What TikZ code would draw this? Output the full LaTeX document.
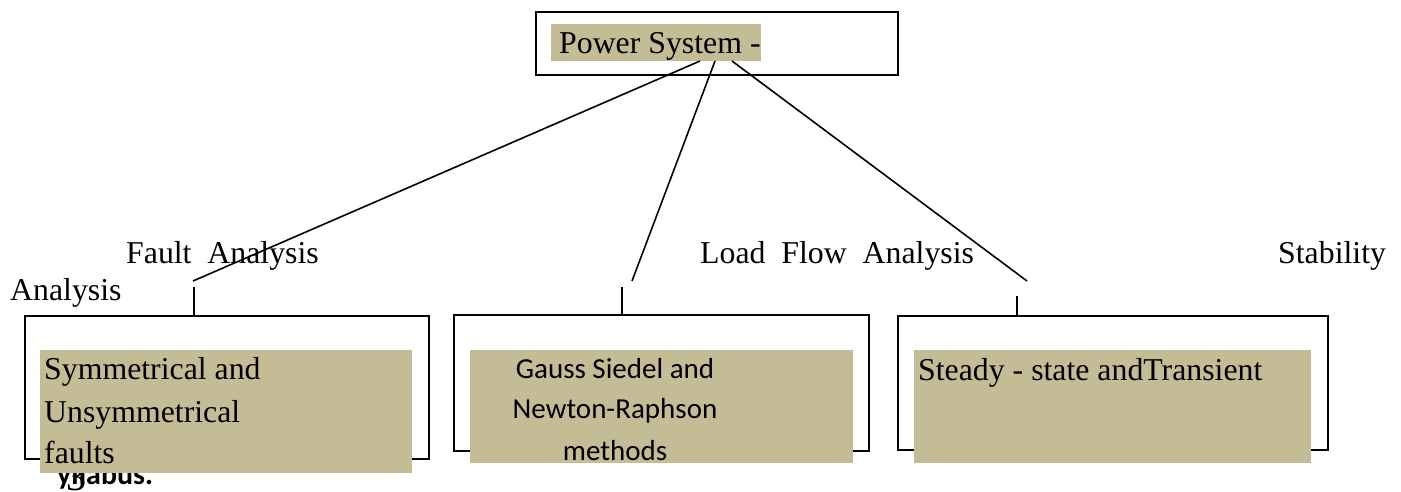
\documentclass[tikz,border=0pt]{standalone}
\usepackage{fontspec}
\setmainfont{Liberation Serif}
\newfontfamily\calibri{Carlito}
\definecolor{khaki}{RGB}{196,188,149}
\newcommand{\serifbig}{\fontsize{31.8}{38}\selectfont}
\newcommand{\sansbig}{\calibri\fontsize{29}{35}\selectfont}
\begin{document}
\begin{tikzpicture}[x=1pt,y=-1pt,
  frame/.style={draw=black,line width=1.8pt,inner sep=0pt,anchor=north west},
  shade/.style={fill=khaki,inner sep=0pt,anchor=north west},
  lbl/.style={inner sep=0pt,anchor=base west,font=\serifbig},
  slbl/.style={inner sep=0pt,anchor=base,font=\sansbig},
  link/.style={draw=black,line width=1.6pt}]
\useasboundingbox (0,0) rectangle (1401,491);

% footer text partly hidden behind the first box
\node[inner sep=0pt,anchor=base west,font={\calibri\bfseries\fontsize{30}{36}\selectfont}] (syl) at (57,484) {yllabus.};
\node[inner sep=0pt,anchor=base west,font={\fontsize{40}{48}\selectfont}] (three) at (66,490) {3};

% top box
\node[frame,minimum width=362pt,minimum height=63pt] (top) at (535,11) {};
\node[shade,minimum width=210pt,minimum height=37pt] (toptag) at (551,24) {};
\node[lbl] (toptxt) at (559,53) {Power System -};

% category labels
\node[lbl] (fault) at (126,263) {Fault\ \ Analysis};
\node[lbl] (anal) at (10,300) {Analysis};
\node[lbl] (load) at (700,263) {Load\ \ Flow\ \ Analysis};
\node[lbl] (stab) at (1278,263) {Stability};

% lower boxes
\node[frame,minimum width=404pt,minimum height=143pt] (b1) at (24,315) {};
\node[frame,minimum width=415pt,minimum height=136pt] (b2) at (453,314) {};
\node[frame,minimum width=430pt,minimum height=134pt] (b3) at (897,315) {};

\node[shade,minimum width=372pt,minimum height=123pt] (t1) at (40,350) {};
\node[shade,minimum width=383pt,minimum height=113pt] (t2) at (470,350) {};
\node[shade,minimum width=397pt,minimum height=113pt] (t3) at (914,350) {};

% box texts
\node[lbl] (t1a) at (44,379) {Symmetrical and};
\node[lbl] (t1b) at (44,422) {Unsymmetrical};
\node[lbl] (t1c) at (44,463) {faults};

\node[slbl] (t2a) at (615,378) {Gauss Siedel and};
\node[slbl] (t2b) at (615,418) {Newton-Raphson};
\node[slbl] (t2c) at (615,460) {methods};

\node[lbl] (t3a) at (918,380) {Steady - state andTransient};

% connectors
\coordinate (s1) at (700,61);
\coordinate (s2) at (715,61);
\coordinate (s3) at (732,61);
\coordinate (e1) at (193,281);
\coordinate (e2) at (632,281);
\coordinate (e3) at (1027,281);
\draw[link] (s1) -- (e1);
\draw[link] (s2) -- (e2);
\draw[link] (s3) -- (e3);

\coordinate (u1) at (194,287);
\coordinate (u2) at (622,287);
\coordinate (u3) at (1017,296);
\draw[link] (u1) -- (u1 |- b1.north);
\draw[link] (u2) -- (u2 |- b2.north);
\draw[link] (u3) -- (u3 |- b3.north);
\end{tikzpicture}
\end{document}
